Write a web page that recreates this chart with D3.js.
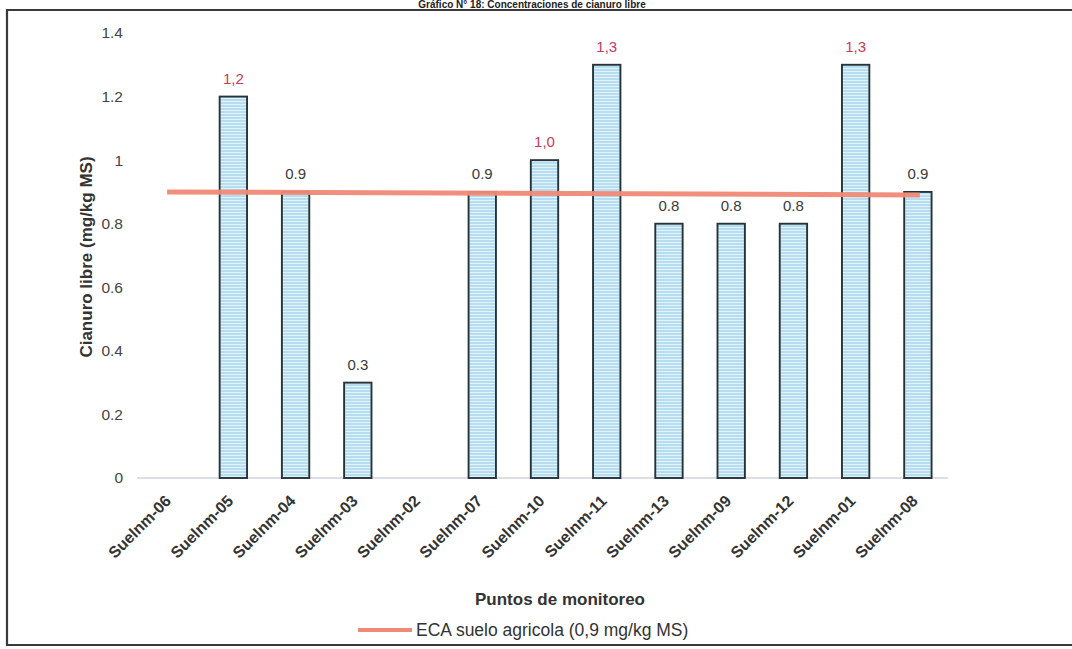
<!DOCTYPE html>
<html>
<head>
<meta charset="utf-8">
<script src="https://cdn.jsdelivr.net/npm/d3@7"></script>
<style>
  html, body { margin: 0; padding: 0; background: #fff; }
  svg { display: block; font-family: "Liberation Sans", Arial, sans-serif; }
</style>
</head>
<body>
<svg id="chart" width="1072" height="649"></svg>
<script>
// Monitoring points and free cyanide concentration (mg/kg MS)
const categories = ["Suelnm-06", "Suelnm-05", "Suelnm-04", "Suelnm-03", "Suelnm-02", "Suelnm-07",
  "Suelnm-10", "Suelnm-11", "Suelnm-13", "Suelnm-09", "Suelnm-12", "Suelnm-01", "Suelnm-08"];
const values = [null, 1.2, 0.9, 0.3, null, 0.9, 1.0, 1.3, 0.8, 0.8, 0.8, 1.3, 0.9];
const valueLabels = ["", "1,2", "0.9", "0.3", "", "0.9", "1,0", "1,3", "0.8", "0.8", "0.8", "1,3", "0.9"];
const yTicks = [0, 0.2, 0.4, 0.6, 0.8, 1, 1.2, 1.4];
const yTickLabels = ["0", "0.2", "0.4", "0.6", "0.8", "1", "1.2", "1.4"];
const ecaLimit = 0.9;

const svg = d3.select("#chart");

// outer frame (left, top, bottom edges)
svg.append("path")
  .attr("d", "M1072,10 H7 V645 H1072")
  .attr("fill", "none").attr("stroke", "#3a3a3e").attr("stroke-width", 2.2);

// title
svg.append("text")
  .attr("x", 532).attr("y", 8)
  .attr("text-anchor", "middle")
  .attr("font-size", 10).attr("font-weight", "bold").attr("fill", "#222")
  .text("Gráfico N° 18: Concentraciones de cianuro libre");

const x = d3.scaleBand().domain(categories).range([140, 949]).paddingInner(0.56).paddingOuter(0.28);
const y = d3.scaleLinear().domain([0, 1.4]).range([478, 33]);

// bar fill: light blue with fine horizontal hatching
const defs = svg.append("defs");
const pat = defs.append("pattern").attr("id", "hatch")
  .attr("patternUnits", "userSpaceOnUse").attr("width", 6).attr("height", 3);
pat.append("rect").attr("width", 6).attr("height", 3).attr("fill", "#b7def0");
pat.append("rect").attr("y", 2).attr("width", 6).attr("height", 1).attr("fill", "#e2f2f9");

// y axis labels
const yAxis = d3.axisLeft(y).tickValues(yTicks)
  .tickFormat((d, i) => yTickLabels[i]).tickSize(0).tickPadding(0);
const yg = svg.append("g").attr("transform", "translate(123,0)").call(yAxis);
yg.select(".domain").remove();
yg.selectAll("text").attr("font-size", 15.5).attr("fill", "#444")
  .attr("font-family", "Liberation Sans, Arial, sans-serif");

// baseline
svg.append("line")
  .attr("x1", 137).attr("x2", 948).attr("y1", y(0)).attr("y2", y(0))
  .attr("stroke", "#cfd3dc").attr("stroke-width", 1.5);

// bars
const data = categories.map((c, i) => ({ c, v: values[i], label: valueLabels[i] }));
svg.append("g").selectAll("rect")
  .data(data.filter(d => d.v != null))
  .join("rect")
  .attr("x", d => x(d.c))
  .attr("width", x.bandwidth())
  .attr("y", d => y(d.v))
  .attr("height", d => y(0) - y(d.v))
  .attr("fill", "url(#hatch)")
  .attr("stroke", "#26343a").attr("stroke-width", 1.9);

// value labels, red when above the ECA limit
svg.append("g").selectAll("text")
  .data(data.filter(d => d.v != null))
  .join("text")
  .attr("x", d => x(d.c) + x.bandwidth() / 2)
  .attr("y", d => y(d.v) - 13)
  .attr("text-anchor", "middle")
  .attr("font-size", 15)
  .attr("fill", d => d.v > ecaLimit ? "#c73a62" : "#3a3a3a")
  .text(d => d.label);

// ECA reference line
const first = categories[0], last = categories[categories.length - 1];
svg.append("line")
  .attr("x1", x(first) + x.bandwidth() / 2 - 4)
  .attr("x2", x(last) + x.bandwidth() / 2 + 2)
  .attr("y1", y(ecaLimit)).attr("y2", y(ecaLimit) + 3)
  .attr("stroke", "#f08a78").attr("stroke-width", 5).attr("opacity", 0.95);

// category labels, rotated
svg.append("g").selectAll("text")
  .data(categories)
  .join("text")
  .attr("transform", d => `translate(${x(d) + x.bandwidth() / 2 + 1},${y(0) + 24}) rotate(-45)`)
  .attr("text-anchor", "end")
  .attr("font-size", 16).attr("font-weight", "bold").attr("fill", "#333")
  .text(d => d);

// axis titles
svg.append("text")
  .attr("transform", "translate(92,257) rotate(-90)")
  .attr("text-anchor", "middle")
  .attr("font-size", 17).attr("font-weight", "bold").attr("fill", "#333")
  .text("Cianuro libre (mg/kg MS)");

svg.append("text")
  .attr("x", 560).attr("y", 605)
  .attr("text-anchor", "middle")
  .attr("font-size", 17).attr("font-weight", "bold").attr("fill", "#333")
  .text("Puntos de monitoreo");

// legend
svg.append("line")
  .attr("x1", 358).attr("x2", 412).attr("y1", 630).attr("y2", 630)
  .attr("stroke", "#f08a78").attr("stroke-width", 4);
svg.append("text")
  .attr("x", 416).attr("y", 636)
  .attr("font-size", 17.5).attr("fill", "#333")
  .text("ECA suelo agricola (0,9 mg/kg MS)");
</script>
</body>
</html>
